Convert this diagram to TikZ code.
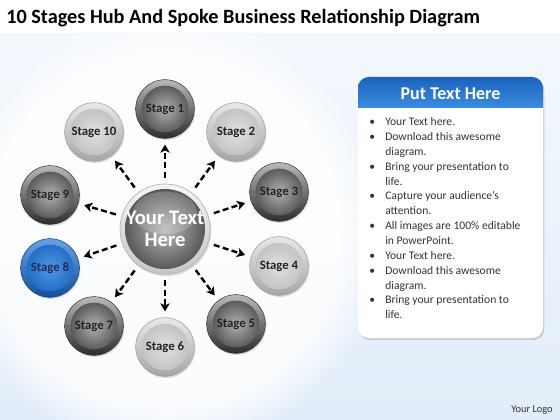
\documentclass[tikz,border=0pt]{standalone}
\usepackage{fontspec}
\setmainfont{Carlito}
\usetikzlibrary{arrows.meta,shadows,calc,fadings}
\definecolor{bgblue}{HTML}{E2EDF9}
\definecolor{bglight}{HTML}{F4F8FD}
\definecolor{txtdark}{HTML}{222222}
\definecolor{bodytxt}{HTML}{333333}
\definecolor{hdrtop}{HTML}{1A63BE}
\definecolor{hdrbot}{HTML}{3C8CE0}
\definecolor{navy}{HTML}{1C2B5A}
\begin{document}
\begin{tikzpicture}[x=0.75pt,y=-0.75pt,
  stagebase/.style={circle, minimum size=44pt, inner sep=0pt,
     font=\bfseries\fontsize{9.6}{10}\selectfont, text=txtdark,
     drop shadow={opacity=0.25, shadow xshift=0.8pt, shadow yshift=-1.2pt}},
  stagedark/.style={stagebase, top color=gray!55, bottom color=gray!35!black, draw=gray!45!black, line width=0.4pt,
     path picture={\shade[inner color=gray!62, outer color=gray!55!black] (path picture bounding box.center) circle (17.5pt);}},
  stagelight/.style={stagebase, top color=gray!18, bottom color=gray!70, draw=gray!75, line width=0.4pt,
     path picture={\shade[inner color=gray!25, outer color=gray!52] (path picture bounding box.center) circle (17.5pt);}},
  stageblue/.style={stagebase, top color=hdrbot!80!white, bottom color=hdrtop!80!black, draw=hdrtop!70!black, line width=0.4pt, text=navy,
     path picture={\shade[inner color=hdrbot!90!white, outer color=hdrtop] (path picture bounding box.center) circle (17.5pt);}},
  spoke/.style={line width=1.8pt, dash pattern=on 4.5pt off 2.5pt, -{Stealth[length=6pt,width=7pt,inset=1.5pt]},
     shorten <=4.5pt, shorten >=4.5pt},
  bodyline/.style={anchor=west, inner sep=0pt, text height=1.55ex, text depth=.35ex,
     font=\fontsize{8.7}{10}\selectfont, text=bodytxt}
]
\useasboundingbox (0,0) rectangle (560,420);
% background
\fill[white] (0,0) rectangle (560,420);
\shade[top color=bglight, bottom color=bgblue] (0,34) rectangle (560,420);
\fill[white, path fading=circle with fuzzy edge 20 percent, opacity=0.85] (165,232) circle (165pt);

% title
\node[anchor=west, inner sep=0pt, font=\bfseries\fontsize{15.2}{18}\selectfont, text=black] (title) at (6,18)
  {10 Stages Hub And Spoke Business Relationship Diagram};

% hub
\node[circle, minimum size=67.5pt, inner sep=0pt, top color=gray!8, bottom color=gray!45, draw=gray!60, line width=0.5pt,
  drop shadow={opacity=0.3, shadow xshift=1pt, shadow yshift=-1.5pt},
  path picture={\shade[inner color=gray!55, outer color=gray!60!black] (path picture bounding box.center) circle (30pt);
                \shade[top color=white, bottom color=white, opacity=0.18] ([yshift=12pt]path picture bounding box.center) ellipse (24pt and 16pt);},
  font=\bfseries\fontsize{15.5}{16.5}\selectfont, text=white, align=center] (hub) at (165,229) {Your Text\\Here};

% stages
\node[stagedark]  (s1)  at (165,109) {Stage 1};
\node[stagelight] (s2)  at (236,132) {Stage 2};
\node[stagedark]  (s3)  at (279,192) {Stage 3};
\node[stagelight] (s4)  at (279,266) {Stage 4};
\node[stagedark]  (s5)  at (236,324) {Stage 5};
\node[stagelight] (s6)  at (165,347) {Stage 6};
\node[stagedark]  (s7)  at (94,326)  {Stage 7};
\node[stageblue]  (s8)  at (50,268)  {Stage 8};
\node[stagedark]  (s9)  at (50,195)  {Stage 9};
\node[stagelight] (s10) at (94,132)  {Stage 10};

\foreach \k in {1,...,10} {\draw[spoke] (hub) -- (s\k);}

% panel
\node[fill=white, rounded corners=8pt, minimum width=138.75pt, minimum height=195.75pt, inner sep=0pt,
  drop shadow={opacity=0.3, shadow xshift=1pt, shadow yshift=-1.5pt}] (panel) at (450.5,207.5) {};
\shade[top color=hdrtop, bottom color=hdrbot] (358,108) {[rounded corners=8pt] -- (358,77) -- (543,77)} -- (543,108) -- cycle;
\node[font=\bfseries\fontsize{13.5}{15}\selectfont, text=white, inner sep=0pt] (hdr) at (450.5,94) {Put Text Here};

\foreach \y/\b/\t in {
  121.7/1/Your Text here.,
  136.6/1/Download this awesome,
  151.4/0/diagram.,
  166.3/1/Bring your presentation to,
  181.2/0/life.,
  196.0/1/Capture your audience’s,
  210.9/0/attention.,
  225.8/1/All images are 100\% editable,
  240.6/0/in PowerPoint.,
  255.5/1/Your Text here.,
  270.4/1/Download this awesome,
  285.2/0/diagram.,
  300.1/1/Bring your presentation to,
  315.0/0/life.}{
  \node[bodyline] (l\y) at (385,\y) {\t};
  \ifnum\b=1 \node[bodyline] (b\y) at (369,\y) {•}; \fi
}

% logo
\node[font=\fontsize{7.8}{9}\selectfont, text=bodytxt, inner sep=0pt] (logo) at (532,410) {Your Logo};
\end{tikzpicture}
\end{document}
